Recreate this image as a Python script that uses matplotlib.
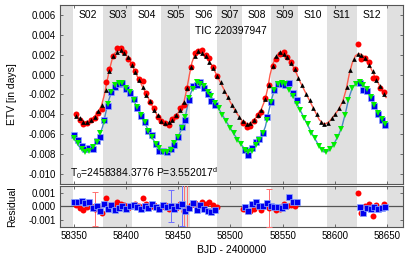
import matplotlib
matplotlib.use('Agg')
import matplotlib.pyplot as plt
import numpy as np
from matplotlib.ticker import FormatStrFormatter, MultipleLocator

plt.rcParams['font.family'] = ['Liberation Sans', 'DejaVu Sans']
plt.rcParams['axes.unicode_minus'] = False
plt.rcParams['mathtext.fontset'] = 'custom'
plt.rcParams['mathtext.rm'] = 'Liberation Sans'
plt.rcParams['mathtext.default'] = 'regular'

# TESS sectors (edges as seen on the chart)
sector_names = ['S02', 'S03', 'S04', 'S05', 'S06', 'S07', 'S08', 'S09', 'S10', 'S11', 'S12']
sector_edges = [58349.3, 58377.5, 58406.0, 58433.4, 58461.2, 58487.0,
                58511.0, 58538.6, 58565.0, 58592.3, 58621.0, 58649.8]

# model curves (ETV in 1e-3 d)
red_model_t = [58351.0, 58355.8, 58360.5, 58363.5, 58368.5, 58373.3, 58376.5, 58379.1, 58381.3,
               58383.9, 58386.8, 58389.6, 58392.8, 58396.0, 58399.9, 58403.7, 58408.5, 58413.3,
               58418.1, 58422.9, 58427.7, 58432.5, 58436.3, 58439.5, 58443.6, 58448.4, 58452.3,
               58455.5, 58458.0, 58460.6, 58463.1, 58465.7, 58468.9, 58472.4, 58477.2, 58482.0,
               58486.8, 58493.2, 58499.6, 58506.0, 58511.7, 58516.2, 58520.7, 58525.2, 58529.3,
               58533.1, 58535.7, 58537.9, 58540.5, 58543.7, 58547.5, 58551.4, 58556.5, 58561.9,
               58566.7, 58573.1, 58579.5, 58585.2, 58589.7, 58594.2, 58598.6, 58603.4, 58607.6,
               58610.8, 58613.7, 58616.6, 58619.8, 58623.3, 58627.4, 58632.2, 58637.0, 58641.8,
               58646.6, 58649.2]
red_model_v = [-3.98, -4.45, -4.75, -4.82, -4.32, -3.78, -3.05, -2.05, -0.88,
               0.46, 1.63, 2.23, 2.47, 2.40, 2.03, 1.36, 0.29, -0.71,
               -1.71, -2.71, -3.72, -4.55, -4.92, -4.95, -4.65, -4.05, -3.45,
               -2.71, -1.54, -0.04, 1.23, 1.96, 2.37, 2.23, 1.70, 0.96,
               -0.04, -1.38, -2.71, -3.88, -4.72, -4.99, -4.79, -4.22, -3.55,
               -2.55, -1.38, -0.04, 1.03, 1.80, 2.23, 2.03, 1.46, 0.46,
               -0.71, -2.05, -3.38, -4.55, -4.99, -4.79, -4.22, -3.55, -2.71,
               -1.54, -0.04, 1.13, 1.90, 2.13, 1.90, 1.13, 0.13, -0.88,
               -1.88, -2.31]

blue_model_t = [58350.0, 58354.2, 58358.3, 58362.1, 58366.0, 58370.1, 58374.3, 58377.5, 58380.0,
                58382.9, 58386.1, 58389.3, 58392.5, 58395.7, 58399.5, 58404.3, 58409.4, 58414.9,
                58420.3, 58426.1, 58431.5, 58436.3, 58440.5, 58444.6, 58449.1, 58452.9, 58456.1,
                58458.7, 58461.9, 58465.1, 58468.3, 58472.1, 58477.2, 58483.6, 58490.0, 58496.4,
                58502.8, 58509.2, 58514.3, 58517.5, 58521.3, 58525.8, 58529.9, 58533.5, 58536.3,
                58539.2, 58542.4, 58545.9, 58549.1, 58553.3, 58558.7, 58565.1, 58571.5, 58577.9,
                58584.3, 58589.7, 58594.2, 58598.6, 58603.1, 58606.9, 58610.2, 58613.4, 58616.9,
                58620.4, 58623.6, 58627.4, 58632.2, 58637.0, 58641.8, 58646.0, 58649.8]
blue_model_v = [-6.46, -7.13, -7.63, -7.79, -7.63, -7.06, -6.22, -5.22, -4.05,
                -2.71, -1.71, -1.04, -0.81, -0.88, -1.21, -1.98, -3.05, -4.22,
                -5.39, -6.56, -7.39, -7.79, -7.73, -7.23, -6.39, -5.55, -4.55,
                -3.22, -1.88, -1.04, -0.78, -0.91, -1.54, -2.55, -3.65, -4.79,
                -5.89, -6.89, -7.56, -7.79, -7.56, -6.89, -6.22, -5.22, -3.88,
                -2.55, -1.44, -0.91, -0.81, -1.04, -1.88, -3.22, -4.55, -5.89,
                -7.06, -7.79, -7.66, -7.06, -6.22, -5.22, -3.88, -2.38, -1.31,
                -0.88, -0.78, -1.04, -1.71, -2.88, -3.88, -4.65, -5.12]

# dataset 1, primary minima (red circles)
red_t = [58352.0, 58355.6, 58359.1, 58362.7, 58366.2, 58369.8, 58373.3, 58376.9, 58380.4, 58384.0,
         58387.5, 58391.1, 58394.6, 58398.2, 58401.7, 58405.3, 58408.8, 58412.4, 58415.9, 58419.5,
         58423.0, 58426.6, 58430.1, 58433.7, 58437.2, 58440.8, 58444.4, 58447.9, 58451.5, 58455.0,
         58458.6, 58462.1, 58465.7, 58469.2, 58472.8, 58476.3, 58479.9, 58483.4, 58487.0,
         58511.8, 58515.4, 58518.9, 58522.5, 58526.0, 58529.6, 58533.2, 58536.7, 58540.3, 58543.8,
         58547.4, 58550.9, 58554.5, 58558.0, 58561.6,
         58622.0, 58625.5, 58629.1, 58632.6, 58636.2, 58639.7, 58643.3, 58646.8]
red_v = [-4.00, -4.55, -4.95, -4.85, -4.55, -4.40, -3.85, -3.45, -0.75, 0.55,
         1.90, 2.65, 2.65, 2.30, 1.60, 1.05, 0.40, -0.45, -0.60, -1.80,
         -2.80, -3.40, -4.30, -4.70, -4.83, -5.05, -4.50, -4.20, -3.40, -3.10,
         -1.35, 0.80, 2.20, 2.42, 2.50, 2.00, 1.65, 0.75, -0.10,
         -4.87, -5.25, -5.20, -4.70, -4.05, -3.75, -2.40, -1.00, 0.90, 1.55,
         2.08, 2.23, 1.75, 1.30, 0.55,
         3.05, 1.60, 1.70, 1.25, -0.35, -0.35, -1.30, -1.70]
red_res = [0.10, -0.10, -0.25, -0.05, 0.05, -0.20, -0.05, -0.45, 0.65, 0.05,
           0.10, 0.30, 0.20, 0.10, -0.10, 0.05, 0.15, 0.05, 0.65, 0.20,
           -0.05, 0.10, -0.15, -0.05, 0.10, -0.20, 0.05, -0.10, 0.15, -0.30,
           -0.15, 0.10, 0.25, 0.05, 0.30, 0.20, 0.35, 0.10, -0.05,
           -0.15, -0.35, -0.30, -0.20, 0.05, -0.25, 0.10, -0.10, -0.05, -0.25,
           -0.15, 0.15, 0.05, 0.10, 0.05,
           1.00, -0.45, 0.05, 0.20, -0.70, 0.10, -0.10, 0.20]
red_err = [0, 0, 0, 0, 0, 1.25, 0, 0, 0, 0,
           0, 0, 0, 0, 0, 0, 0, 0, 0, 0,
           0, 0, 0, 0, 0, 0, 0, 0, 0, 2.5,
           2.5, 0, 0, 0, 0, 0, 0, 0, 0,
           0, 0, 0, 0, 0, 0, 0, 1.4, 0, 0,
           0, 0, 0, 0, 0,
           0, 0, 0, 0, 0, 0, 0, 0]

# dataset 1, secondary minima (blue squares)
blue_t = [58350.2, 58353.8, 58357.4, 58360.9, 58364.5, 58368.0, 58371.6, 58375.1, 58378.7, 58382.2,
          58385.8, 58389.3, 58392.9, 58396.4, 58400.0, 58403.5, 58407.1, 58410.6, 58414.2, 58417.7,
          58421.3, 58424.8, 58428.4, 58431.9, 58435.5, 58439.0, 58442.6, 58446.2, 58449.7, 58453.3,
          58456.8, 58460.4, 58463.9, 58467.5, 58471.0, 58474.6, 58478.1, 58481.7, 58485.2,
          58513.6, 58517.2, 58520.7, 58524.3, 58527.8, 58531.4, 58535.0, 58538.5, 58542.1, 58545.6,
          58549.2, 58552.7, 58556.3, 58559.8, 58563.4,
          58623.8, 58627.3, 58630.9, 58634.4, 58638.0, 58641.5, 58645.1, 58648.6]
blue_v = [-6.10, -6.55, -7.15, -7.52, -7.42, -7.45, -6.72, -6.25, -4.55, -3.15,
          -1.70, -1.29, -0.91, -0.85, -1.45, -1.80, -2.45, -3.40, -4.20, -4.80,
          -5.70, -6.10, -7.00, -7.65, -7.65, -7.83, -7.45, -7.05, -6.25, -5.30,
          -4.55, -2.55, -1.10, -1.05, -0.75, -1.35, -2.00, -2.65, -3.10,
          -7.55, -8.08, -7.40, -6.80, -6.50, -5.90, -4.25, -2.80, -1.55, -0.97,
          -0.91, -1.00, -0.80, -1.85, -2.60,
          -0.83, -1.53, -1.60, -2.35, -3.15, -4.00, -4.60, -5.10]
blue_res = [0.35, 0.30, 0.40, 0.25, 0.30, -0.10, 0.05, -0.30, 0.20, -0.15,
            0.10, -0.25, -0.10, 0.05, -0.20, 0.00, 0.10, -0.05, -0.15, 0.05,
            -0.10, 0.20, -0.05, -0.20, 0.10, -0.05, 0.05, -0.15, 0.00, 0.15,
            -0.35, -0.10, 0.25, -0.25, 0.10, -0.15, -0.30, -0.40, -0.25,
            -0.05, -0.30, 0.20, 0.30, 0.05, 0.00, 0.25, 0.05, -0.05, -0.05,
            -0.10, 0.00, 0.70, 0.35, 0.30,
            -0.05, -0.50, -0.10, -0.15, -0.05, -0.20, -0.10, -0.05]
blue_err = [0, 0, 0, 0, 0, 0, 0, 0, 0, 0,
            0, 0, 0, 0, 0, 0, 0, 0, 0, 0,
            0, 0, 0, 0, 0, 0, 1.18, 0, 0, 1.6,
            0, 0, 0, 0, 0, 0, 0, 0, 0,
            0, 0, 0, 0, 0, 0, 0, 0, 0, 0,
            0, 0, 0, 0, 0,
            0, 0, 0, 0, 0, 0, 0, 0]

# dataset 2, primary minima (black triangles)
black_t = [58352.0, 58355.6, 58359.1, 58362.7, 58366.2, 58369.8, 58373.3, 58376.9, 58380.4, 58384.0,
           58387.5, 58391.1, 58394.6, 58398.2, 58401.7, 58405.3, 58408.8, 58412.4, 58415.9, 58419.5,
           58423.0, 58426.6, 58430.1, 58433.7, 58437.2, 58440.8, 58444.4, 58447.9, 58451.5, 58455.0,
           58458.6, 58462.1, 58465.7, 58469.2, 58472.8, 58476.3, 58479.9, 58483.4, 58487.0, 58490.5,
           58494.1, 58497.6, 58501.2, 58504.7, 58508.3, 58511.8, 58515.4, 58518.9, 58522.5, 58526.0,
           58529.6, 58533.2, 58536.7, 58540.3, 58543.8, 58547.4, 58550.9, 58554.5, 58558.0, 58561.6,
           58565.1, 58568.7, 58572.2, 58575.8, 58579.3, 58582.9, 58586.4, 58590.0, 58593.5, 58597.1,
           58600.6, 58604.2, 58607.8, 58611.3, 58614.9, 58618.4, 58622.0, 58625.5, 58629.1, 58632.6,
           58636.2, 58639.7, 58643.3, 58646.8]
black_v = [-4.15, -4.40, -4.75, -4.75, -4.55, -4.25, -3.70, -3.05, -1.50, 0.40,
           1.85, 2.30, 2.50, 2.15, 1.75, 0.95, 0.30, -0.55, -1.20, -2.05,
           -2.70, -3.55, -4.10, -4.70, -4.90, -4.80, -4.60, -4.05, -3.60, -2.75,
           -1.30, 0.80, 1.90, 2.40, 2.15, 1.85, 1.25, 0.70, -0.10, -0.75,
           -1.60, -2.25, -3.05, -3.60, -4.30, -4.70, -5.00, -4.85, -4.55, -4.05,
           -3.55, -2.45, -1.00, 0.90, 1.85, 2.25, 2.05, 1.75, 1.15, 0.55,
           -0.35, -1.05, -1.90, -2.55, -3.40, -4.00, -4.75, -4.95, -4.90, -4.35,
           -3.95, -3.35, -2.70, -1.25, 0.45, 1.55, 2.10, 2.00, 1.70, 1.00,
           0.35, -0.50, -1.15, -1.95]

# dataset 2, secondary minima (green triangles)
green_t = [58350.2, 58353.8, 58357.4, 58360.9, 58364.5, 58368.0, 58371.6, 58375.1, 58378.7, 58382.2,
           58385.8, 58389.3, 58392.9, 58396.4, 58400.0, 58403.5, 58407.1, 58410.6, 58414.2, 58417.7,
           58421.3, 58424.8, 58428.4, 58431.9, 58435.5, 58439.0, 58442.6, 58446.2, 58449.7, 58453.3,
           58456.8, 58460.4, 58463.9, 58467.5, 58471.0, 58474.6, 58478.1, 58481.7, 58485.2, 58488.8,
           58492.3, 58495.9, 58499.4, 58503.0, 58506.5, 58510.1, 58513.6, 58517.2, 58520.7, 58524.3,
           58527.8, 58531.4, 58535.0, 58538.5, 58542.1, 58545.6, 58549.2, 58552.7, 58556.3, 58559.8,
           58563.4, 58566.9, 58570.5, 58574.0, 58577.6, 58581.1, 58584.7, 58588.2, 58591.8, 58595.3,
           58598.9, 58602.4, 58606.0, 58609.6, 58613.1, 58616.7, 58620.2, 58623.8, 58627.3, 58630.9,
           58634.4, 58638.0, 58641.5, 58645.1, 58648.6]
green_v = [-6.40, -6.90, -7.50, -7.80, -7.70, -7.30, -6.80, -5.90, -4.80, -2.95,
           -1.75, -1.00, -0.85, -0.85, -1.30, -1.75, -2.60, -3.30, -4.10, -4.80,
           -5.65, -6.25, -7.00, -7.40, -7.80, -7.75, -7.55, -6.85, -6.30, -5.40,
           -4.25, -2.40, -1.40, -0.75, -0.90, -1.15, -1.75, -2.20, -2.90, -3.40,
           -4.05, -4.65, -5.35, -5.90, -6.55, -6.95, -7.55, -7.75, -7.65, -7.05,
           -6.60, -5.85, -4.55, -2.80, -1.55, -0.90, -0.85, -0.95, -1.55, -2.15,
           -2.95, -3.55, -4.40, -5.00, -5.85, -6.40, -7.15, -7.55, -7.80, -7.45,
           -7.05, -6.30, -5.50, -4.05, -2.60, -1.30, -0.95, -0.75, -1.05, -1.45,
           -2.25, -3.05, -3.85, -4.45, -5.00]

xmin, xmax = 58336.6, 58665.4
band = '#e0e0e0'
frame = '#555555'

fig = plt.figure(figsize=(4.07, 2.59), dpi=100)
ax1 = fig.add_axes([0.1474, 0.2896, 0.8428, 0.6911])
ax2 = fig.add_axes([0.1474, 0.1236, 0.8428, 0.1583])

for ax in (ax1, ax2):
    ax.axvspan(xmin, sector_edges[0], color=band, lw=0, zorder=0)
    for i in range(1, len(sector_edges) - 1, 2):
        ax.axvspan(sector_edges[i], sector_edges[i + 1], color=band, lw=0, zorder=0)
    ax.axvspan(sector_edges[-1], xmax, color=band, lw=0, zorder=0)
    ax.set_xlim(xmin, xmax)
    ax.xaxis.set_major_locator(MultipleLocator(50))
    ax.tick_params(direction='in', top=True, right=True, length=2.5, width=0.6,
                   labelsize=7, color=frame, pad=3)
    for s in ax.spines.values():
        s.set_color(frame)
        s.set_linewidth(0.8)

s = 1e-3
ax1.plot(np.array(red_model_t), np.array(red_model_v) * s, color='#ff5a4a', lw=1.0, zorder=2)
ax1.plot(np.array(blue_model_t), np.array(blue_model_v) * s, color='#4a88c4', lw=1.0, zorder=2)
ax1.plot(red_t, np.array(red_v) * s, 'o', color='#ff0000', ms=4.3, mew=0, zorder=3)
ax1.plot(black_t, np.array(black_v) * s, '^', color='black', ms=3.4, mew=0, zorder=4)
ax1.plot(blue_t, np.array(blue_v) * s, 's', color='#0000ee', ms=3.8, mew=0.5,
         mec='#8fa8ff', zorder=3)
ax1.plot(green_t, np.array(green_v) * s, 'v', color='#00ee00', ms=3.8, mew=0, zorder=4)

ax1.set_ylim(-0.011, 0.007)
ax1.yaxis.set_major_locator(MultipleLocator(0.002))
ax1.yaxis.set_major_formatter(FormatStrFormatter('%.3f'))
ax1.set_xticklabels([])
ax1.set_ylabel('ETV [in days]', fontsize=7.5)
ax1.yaxis.set_label_coords(-0.125, 0.5)

for i, name in enumerate(sector_names):
    xc = 0.5 * (sector_edges[i] + sector_edges[i + 1])
    ax1.text(xc, 0.944, name, transform=ax1.get_xaxis_transform(),
             ha='center', va='center', fontsize=7.5)
ax1.text(58466, 0.855, 'TIC 220397947', transform=ax1.get_xaxis_transform(),
         ha='left', va='center', fontsize=7.5)
ax1.text(58346, 0.06, r'T$_0$=2458384.3776 P=3.552017$^d$', transform=ax1.get_xaxis_transform(),
         ha='left', va='center', fontsize=7.5)

# residuals
ax2.axhline(0, color='#555555', lw=0.9, zorder=2)
re = np.array(red_err)
be = np.array(blue_err)
rm = re > 0
bm = be > 0
ax2.errorbar(np.array(red_t)[rm], np.array(red_res)[rm] * s, yerr=re[rm] * s, fmt='none',
             ecolor='#ff7070', elinewidth=0.7, capsize=2, capthick=0.7, zorder=3)
ax2.errorbar(np.array(blue_t)[bm], np.array(blue_res)[bm] * s, yerr=be[bm] * s, fmt='none',
             ecolor='#7070ff', elinewidth=0.7, capsize=2, capthick=0.7, zorder=3)
ax2.plot(red_t, np.array(red_res) * s, 'o', color='#ff0000', ms=4.3, mew=0, zorder=4)
ax2.plot(blue_t, np.array(blue_res) * s, 's', color='#0000ee', ms=3.8, mew=0.5,
         mec='#8fa8ff', zorder=5)
ax2.set_ylim(-0.0015, 0.0015)
ax2.yaxis.set_major_locator(MultipleLocator(0.001))
ax2.yaxis.set_major_formatter(FormatStrFormatter('%.3f'))
ax2.set_ylabel('Residual', fontsize=7.5)
ax2.yaxis.set_label_coords(-0.125, 0.5)
ax2.set_xlabel('BJD - 2400000', fontsize=7.5, labelpad=3)

fig.savefig('out.png', dpi=100)
